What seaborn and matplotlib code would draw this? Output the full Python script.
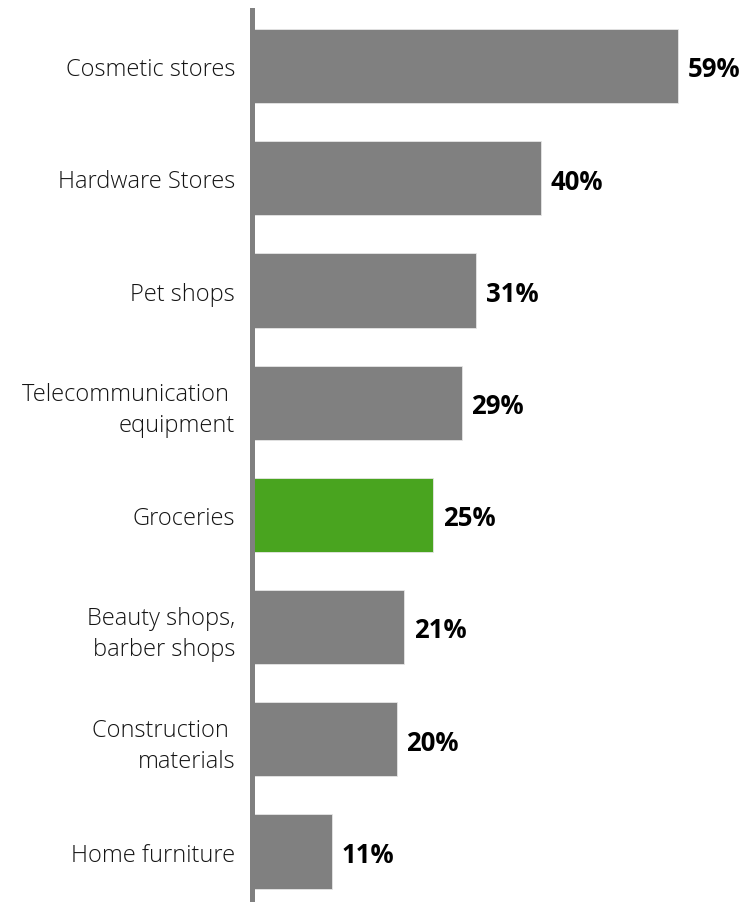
import matplotlib
matplotlib.use("Agg")
import matplotlib.pyplot as plt
import seaborn as sns
import pandas as pd

# Share of respondents by store type
categories = [
    "Cosmetic stores",
    "Hardware Stores",
    "Pet shops",
    "Telecommunication \nequipment",
    "Groceries",
    "Beauty shops,\nbarber shops",
    "Construction \nmaterials",
    "Home furniture",
]
values = [59, 40, 31, 29, 25, 21, 20, 11]
value_labels = ["59%", "40%", "31%", "29%", "25%", "21%", "20%", "11%"]
highlight = "Groceries"

GRAY = "#808080"
GREEN = "#49a41f"

sns.set_theme(style="white")
plt.rcParams["font.family"] = ["Open Sans", "DejaVu Sans"]

df = pd.DataFrame({"category": categories, "value": values})
palette = {c: (GREEN if c == highlight else GRAY) for c in categories}

W, H = 743, 903
fig = plt.figure(figsize=(W / 100, H / 100), dpi=100)
ax = fig.add_axes([252.5 / W, 0.0, (W - 252.5) / W, (903 - 11) / H])

sns.barplot(
    data=df, x="value", y="category", hue="category", palette=palette,
    order=categories, hue_order=categories, orient="h", width=0.66,
    legend=False, edgecolor="#e6e6e6", linewidth=0.6, ax=ax, saturation=1,
)

ax.set_xlim(0, 68)
ax.set_ylim(7.45, -0.5)
ax.set_xlabel("")
ax.set_ylabel("")
ax.set_xticks([])

for s in ("top", "right", "bottom"):
    ax.spines[s].set_visible(False)
ax.spines["left"].set_color(GRAY)
ax.spines["left"].set_linewidth(3.6)

ax.tick_params(axis="y", length=0, pad=12.5, labelsize=17, labelcolor="#141414")
for lbl in ax.get_yticklabels():
    lbl.set_multialignment("right")
    lbl.set_fontweight("light")
    lbl.set_linespacing(1.38)

for i, (v, t) in enumerate(zip(values, value_labels)):
    ax.annotate(t, xy=(v, i), xytext=(7, -2), textcoords="offset points",
                ha="left", va="center", fontsize=18.5, fontweight="bold",
                color="black")

fig.savefig("out.png", dpi=100)
